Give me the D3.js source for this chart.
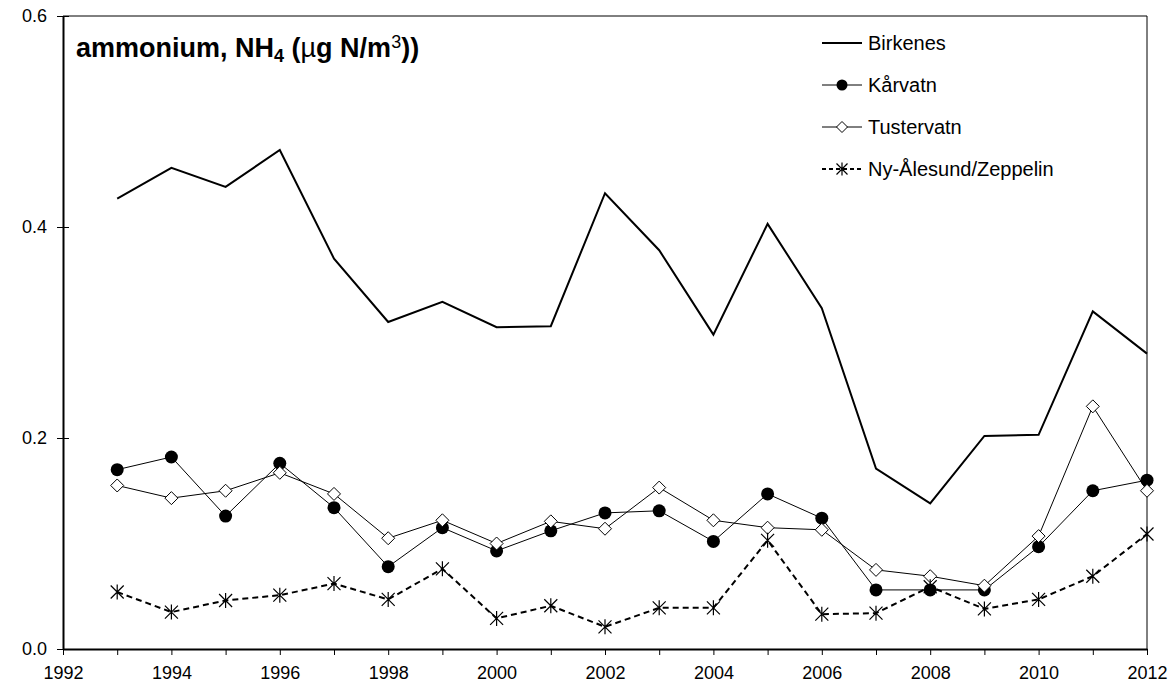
<!DOCTYPE html>
<html>
<head>
<meta charset="utf-8">
<script src="https://cdn.jsdelivr.net/npm/d3@7"></script>
<style>
  body { margin: 0; background: #fff; }
  text { font-family: Arial, "Liberation Sans", sans-serif; }
</style>
</head>
<body>
<script>
// data
const years = [1993, 1994, 1995, 1996, 1997, 1998, 1999, 2000, 2001, 2002,
  2003, 2004, 2005, 2006, 2007, 2008, 2009, 2010, 2011, 2012];
const birkenes = [0.427, 0.456, 0.438, 0.473, 0.370, 0.310, 0.329, 0.305, 0.306, 0.432,
  0.378, 0.298, 0.403, 0.323, 0.171, 0.138, 0.202, 0.203, 0.320, 0.280];
const karvatn = [0.170, 0.182, 0.126, 0.176, 0.134, 0.078, 0.115, 0.093, 0.112, 0.129,
  0.131, 0.102, 0.147, 0.124, 0.056, 0.056, 0.056, 0.097, 0.150, 0.160];
const tustervatn = [0.155, 0.143, 0.150, 0.167, 0.147, 0.105, 0.122, 0.100, 0.121, 0.114,
  0.153, 0.122, 0.115, 0.113, 0.075, 0.069, 0.060, 0.107, 0.230, 0.150];
const nyalesund = [0.054, 0.035, 0.046, 0.051, 0.062, 0.047, 0.076, 0.029, 0.041, 0.021,
  0.039, 0.039, 0.103, 0.033, 0.034, 0.059, 0.038, 0.047, 0.069, 0.109];
const yTicks = [0, 0.2, 0.4, 0.6];
const xTickLabels = [1992, 1994, 1996, 1998, 2000, 2002, 2004, 2006, 2008, 2010, 2012];

const series = [
  {name: "Birkenes", values: birkenes, width: 2, dash: null, marker: "none"},
  {name: "Kårvatn", values: karvatn, width: 1, dash: null, marker: "circle"},
  {name: "Tustervatn", values: tustervatn, width: 1, dash: null, marker: "diamond"},
  {name: "Ny-Ålesund/Zeppelin", values: nyalesund, width: 2, dash: "6,4", marker: "star"}
];

const W = 1176, H = 690;
const margin = {top: 16, right: 29, bottom: 41, left: 63};
const width = W - margin.left - margin.right;
const height = H - margin.top - margin.bottom;

const svg = d3.select("body").append("svg")
  .attr("width", W)
  .attr("height", H);

const g = svg.append("g")
  .attr("transform", "translate(" + margin.left + "," + margin.top + ")");

const x = d3.scaleLinear().domain([1992, 2012]).range([0, width]);
const y = d3.scaleLinear().domain([0, 0.6]).range([height, 0]);

// frame (top and right)
g.append("path")
  .attr("d", "M0,0H" + width + "V" + height)
  .attr("fill", "none")
  .attr("stroke", "#000")
  .attr("stroke-width", 1);

// x axis, ticks every year, labels every 2 years
const xAxis = d3.axisBottom(x)
  .tickValues(d3.range(1992, 2013))
  .tickSize(6)
  .tickSizeOuter(0)
  .tickFormat(d => xTickLabels.includes(d) ? d : "");
const gx = g.append("g")
  .attr("transform", "translate(0," + height + ")")
  .call(xAxis);
gx.select(".domain").attr("stroke-width", 2);
gx.selectAll(".tick line").attr("stroke-width", 1);
gx.selectAll("text").attr("font-size", 18).attr("y", 12).attr("dy", "1em").attr("fill", "#000");

// y axis with cross ticks
const yAxis = d3.axisLeft(y)
  .tickValues(yTicks)
  .tickSize(5)
  .tickSizeOuter(0)
  .tickFormat(d3.format(".1f"));
const gy = g.append("g").call(yAxis);
gy.select(".domain").attr("stroke-width", 2);
gy.selectAll(".tick line").attr("x2", -6).attr("x1", 6);
gy.selectAll("text").attr("font-size", 18).attr("x", -16).attr("fill", "#000");

// lines
const line = d3.line()
  .x((d, i) => x(years[i]))
  .y(d => y(d));

series.forEach(s => {
  g.append("path")
    .datum(s.values)
    .attr("fill", "none")
    .attr("stroke", "#000")
    .attr("stroke-width", s.width)
    .attr("stroke-dasharray", s.dash)
    .attr("stroke-linejoin", "miter")
    .attr("d", line);
});

function drawMarker(sel, type, r) {
  if (type === "circle") {
    sel.append("circle").attr("r", r).attr("fill", "#000");
  } else if (type === "diamond") {
    sel.append("path").attr("d", "M0,-" + r + "L" + r + ",0L0," + r + "L-" + r + ",0Z")
      .attr("fill", "#fff").attr("stroke", "#000").attr("stroke-width", 1);
  } else if (type === "star") {
    sel.append("path").attr("d", "M-" + r + ",-" + r + "L" + r + "," + r + "M-" + r + "," + r + "L" + r + ",-" + r + "M0,-" + (r + 1) + "V" + (r + 1))
      .attr("fill", "none").attr("stroke", "#000").attr("stroke-width", 1.2);
  }
}

series.forEach(s => {
  if (s.marker === "none") return;
  g.append("g").selectAll("g")
    .data(s.values)
    .enter().append("g")
    .attr("transform", (d, i) => "translate(" + x(years[i]) + "," + y(d) + ")")
    .each(function() { drawMarker(d3.select(this), s.marker, 6.5); });
});

// title
const title = svg.append("text")
  .attr("x", 76)
  .attr("y", 57)
  .attr("font-size", 27)
  .attr("font-weight", "bold")
  .attr("fill", "#000");
title.append("tspan").text("ammonium, NH");
title.append("tspan").attr("font-size", 18).attr("dy", 5).text("4");
title.append("tspan").attr("dy", -5).text(" (");
title.append("tspan").attr("font-weight", "normal").text("µ");
title.append("tspan").text("g N/m");
title.append("tspan").attr("font-size", 18).attr("dy", -9).attr("font-weight", "normal").text("3");
title.append("tspan").attr("dy", 9).text("))");

// legend
const legend = svg.append("g")
  .selectAll("g")
  .data(series)
  .enter().append("g")
  .attr("transform", (d, i) => "translate(822," + (43 + i * 42) + ")");

legend.append("line")
  .attr("x1", 0).attr("x2", 40)
  .attr("stroke", "#000")
  .attr("stroke-width", d => d.width)
  .attr("stroke-dasharray", d => d.dash ? "4,3" : null);

legend.append("g")
  .attr("transform", "translate(20,0)")
  .each(function(d) {
    if (d.marker !== "none") drawMarker(d3.select(this), d.marker, 5.5);
  });

legend.append("text")
  .attr("x", 46)
  .attr("dy", "0.35em")
  .attr("font-size", 20)
  .text(d => d.name);
</script>
</body>
</html>
